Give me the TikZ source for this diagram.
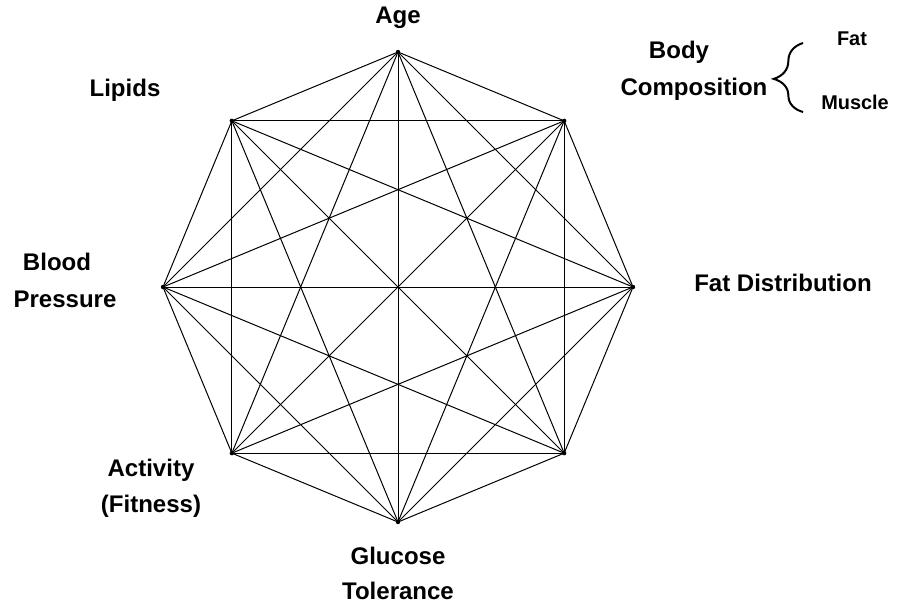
\documentclass[tikz,border=0pt]{standalone}
\usepackage{fontspec}
\setmainfont{Liberation Sans}
\usepackage{tikz}
\usetikzlibrary{decorations.pathreplacing,calc}

\tikzset{
  factor/.style={font=\fontsize{20.5}{24}\selectfont\bfseries,inner sep=0pt},
  link/.style={line width=0.85pt,black}
}

\begin{document}
\begin{tikzpicture}[x=0.03cm,y=-0.03cm]
        \useasboundingbox (0,0) rectangle (900,603);
        \def\cx{398}
        \def\cy{287}
        \def\rr{235}
        % Vertices of the octagon, v0 at the top, clockwise
        \foreach \k in {0,...,7}
          \coordinate (v\k) at ({\cx+\rr*sin(45*\k)},{\cy-\rr*cos(45*\k)});
        % Every pair joined
        \foreach \i in {0,...,6} {
          \pgfmathtruncatemacro{\nxt}{\i+1}
          \foreach \j in {\nxt,...,7}
            \draw[link] (v\i) -- (v\j);
        }
        \foreach \k in {0,...,7}
          \fill (v\k) circle (2.2);
        % Labels
        \node[factor] (age) at (398,18) {Age};
        \node[factor] (lipids) at (125,90) {Lipids};
        \node[factor] (body) at (679,52) {Body};
        \node[factor] (comp) at (694,89) {Composition};
        \node[factor,font=\fontsize{17}{20}\selectfont\bfseries] (fat) at (852,39) {Fat};
        \node[factor,font=\fontsize{17}{20}\selectfont\bfseries] (muscle) at (855,102) {Muscle};
        \node[factor] (fatdist) at (783,283) {Fat Distribution};
        \node[factor] (blood) at (57,262) {Blood};
        \node[factor] (press) at (65,299) {Pressure};
        \node[factor] (activ) at (151,470) {Activity};
        \node[factor] (fitness) at (151,506) {(Fitness)};
        \node[factor] (gluc) at (398,556) {Glucose};
        \node[factor] (toler) at (398,591) {Tolerance};
        % Brace
        \draw[line width=1.7pt,decorate,decoration={brace,amplitude=25,aspect=0.48}]
          (803,112) -- (803,43);
      \end{tikzpicture}
\end{document}
